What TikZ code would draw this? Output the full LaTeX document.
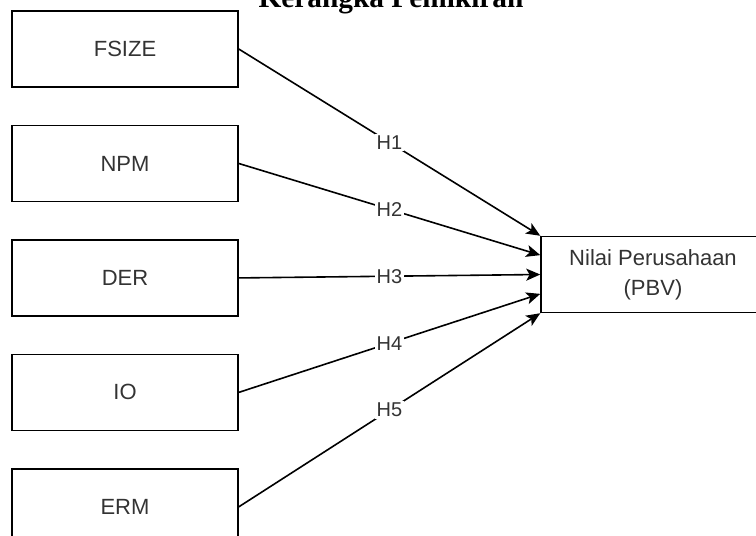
\documentclass[tikz,border=0pt]{standalone}
\usepackage{fontspec}
\setmainfont{Liberation Serif}
\setsansfont{Liberation Sans}
\usetikzlibrary{arrows.meta, positioning, calc}
\definecolor{txtgray}{HTML}{333333}

\begin{document}
\begin{tikzpicture}[x=0.75pt, y=-0.75pt,
    varbox/.style={draw, line width=1.1pt, minimum width=169.5pt, minimum height=57pt,
                   font=\sffamily\fontsize{16.5}{22.5}\selectfont, text=txtgray, align=center},
    hyp/.style={-{Stealth[length=10.5pt, width=9pt, inset=2.5pt]}, line width=1.2pt},
    hlabel/.style={fill=white, inner sep=1.5pt, font=\sffamily\fontsize{15}{18}\selectfont, text=txtgray},
]
    \useasboundingbox (0,0) rectangle (756,535);

    % Title (cut at the top)
    \node[font=\bfseries\fontsize{22}{26}\selectfont, anchor=base] (title) at (391,8) {Kerangka Pemikiran};

    % Independent variables
    \node[varbox] (fsize) at (125,49) {FSIZE};
    \node[varbox, below=27.75pt of fsize] (npm) {NPM};
    \node[varbox, below=27.75pt of npm] (der) {DER};
    \node[varbox, below=27.75pt of der] (io) {IO};
    \node[varbox, below=27.75pt of io] (erm) {ERM};

    % Dependent variable
    \node[varbox, minimum width=168pt] (pbv) at (653,274.5) {Nilai Perusahaan\\(PBV)};

    % Entry points on the left side
    \coordinate (in1) at (pbv.north west);
    \coordinate (in2) at ($(pbv.north west)!0.25!(pbv.south west)$);
    \coordinate (in3) at (pbv.west);
    \coordinate (in4) at ($(pbv.north west)!0.75!(pbv.south west)$);
    \coordinate (in5) at (pbv.south west);

    % Hypotheses
    \draw[hyp] (fsize.east) -- node[hlabel] {H1} (in1);
    \draw[hyp] (npm.east) -- node[hlabel] {H2} (in2);
    \draw[hyp] (der.east) -- node[hlabel] {H3} (in3);
    \draw[hyp] (io.east) -- node[hlabel] {H4} (in4);
    \draw[hyp] (erm.east) -- node[hlabel] {H5} (in5);
\end{tikzpicture}
\end{document}
